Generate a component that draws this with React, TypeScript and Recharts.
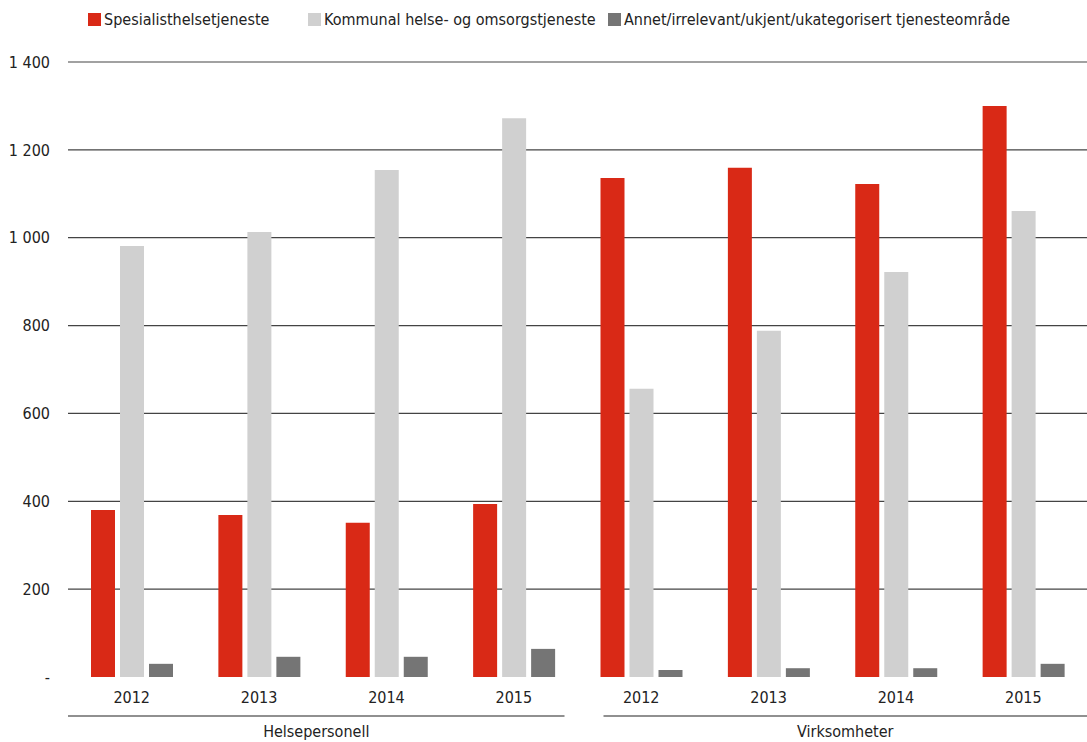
import React from 'react'
import { BarChart, Bar, XAxis, YAxis, CartesianGrid } from 'recharts'

const years = ['2012', '2013', '2014', '2015', '2012', '2013', '2014', '2015']
const groups = [
  'Helsepersonell', 'Helsepersonell', 'Helsepersonell', 'Helsepersonell',
  'Virksomheter', 'Virksomheter', 'Virksomheter', 'Virksomheter',
]
const spesialist = [380, 369, 351, 394, 1136, 1159, 1122, 1300]
const kommunal = [981, 1013, 1154, 1272, 656, 788, 922, 1061]
const annet = [30, 46, 46, 64, 16, 20, 20, 30]
const yTicks = [0, 200, 400, 600, 800, 1000, 1200, 1400]

const seriesNames = [
  'Spesialisthelsetjeneste',
  'Kommunal helse- og omsorgstjeneste',
  'Annet/irrelevant/ukjent/ukategorisert tjenesteområde',
]
const colors = ['#d92916', '#d0d0d0', '#757575']
const legendX = [88, 308, 608]

const FONT = '"Liberation Sans Narrow", "DejaVu Sans Condensed", "Roboto", sans-serif'

const data = years.map((y, i) => ({
  year: y,
  group: groups[i],
  spesialist: spesialist[i],
  kommunal: kommunal[i],
  annet: annet[i],
}))

const fmt = (v: number) => (v === 0 ? '-' : v.toLocaleString('en-US').replace(',', ' '))

function YearTick(props: any) {
  const { x, y, payload } = props
  return (
    <text x={x} y={y + 18} textAnchor="middle" fontSize={16} fill="#222" fontFamily={FONT}>
      {payload.value}
    </text>
  )
}

// group label under each half, with a rule spanning its four years
function GroupTick(props: any) {
  const { x, y, payload, index } = props
  const half = 1019 / 4
  const x1 = x - half + (index === 0 ? 0 : 26)
  const x2 = x + half - (index === 0 ? 13 : 0)
  return (
    <g>
      <line x1={x1} x2={x2} y1={y - 7} y2={y - 7} stroke="#222" strokeWidth={1.2} />
      <text x={(x1 + x2) / 2} y={y + 14} textAnchor="middle" fontSize={16} fill="#222" fontFamily={FONT}>
        {payload.value}
      </text>
    </g>
  )
}

export default function App() {
  return (
    <div style={{ position: 'absolute', left: 0, top: 0, width: 1087, height: 742, background: '#fff', fontFamily: FONT }}>
      <div style={{ position: 'absolute', left: 0, top: 10, width: 1087, height: 24 }}>
        {seriesNames.map((n, i) => (
          <div
            key={n}
            style={{
              position: 'absolute',
              left: legendX[i],
              top: 0,
              display: 'flex',
              alignItems: 'center',
              fontFamily: FONT,
              fontSize: 16,
              color: '#222',
              whiteSpace: 'nowrap',
            }}
          >
            <span style={{ width: 13, height: 13, background: colors[i], marginRight: 3, display: 'inline-block' }} />
            {n}
          </div>
        ))}
      </div>
      <BarChart
        width={1087}
        height={742}
        data={data}
        margin={{ top: 62, right: 0, bottom: 0, left: 0 }}
        barCategoryGap="18%"
        barGap={5}
        style={{ fontFamily: FONT }}
      >
        <CartesianGrid
          xAxisId={0}
          vertical={false}
          horizontalValues={yTicks.filter((t) => t > 0)}
          stroke="#444"
          strokeWidth={1.2}
        />
        <XAxis
          xAxisId={0}
          dataKey="year"
          height={38}
          axisLine={false}
          tickLine={false}
          interval={0}
          tick={<YearTick />}
        />
        <XAxis
          xAxisId={1}
          dataKey="group"
          allowDuplicatedCategory={false}
          height={27}
          axisLine={false}
          tickLine={false}
          interval={0}
          tick={<GroupTick />}
        />
        <YAxis
          width={68}
          domain={[0, 1400]}
          ticks={yTicks}
          axisLine={false}
          tickLine={false}
          tickMargin={12}
          tickFormatter={fmt}
          tick={{ fontSize: 16, fill: '#222', fontFamily: FONT }}
        />
        <Bar xAxisId={0} dataKey="spesialist" fill={colors[0]} barSize={24} isAnimationActive={false} />
        <Bar xAxisId={0} dataKey="kommunal" fill={colors[1]} barSize={24} isAnimationActive={false} />
        <Bar xAxisId={0} dataKey="annet" fill={colors[2]} barSize={24} isAnimationActive={false} />
      </BarChart>
    </div>
  )
}
